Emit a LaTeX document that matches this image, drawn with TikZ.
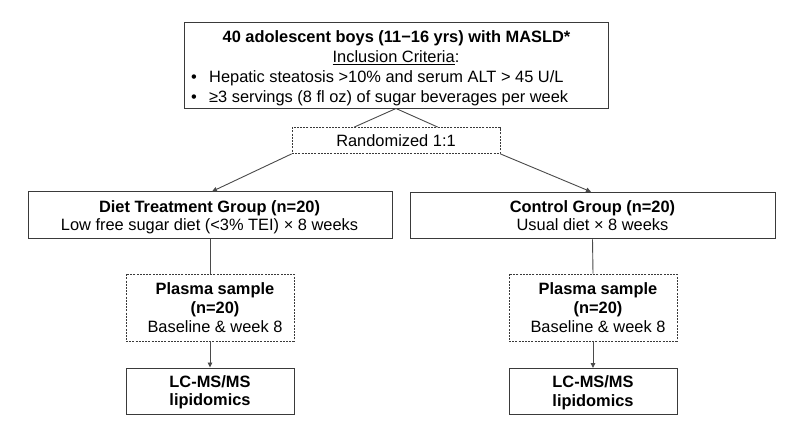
\documentclass[tikz,border=0pt]{standalone}
\usepackage{fontspec}
\setmainfont{Liberation Sans}
\usetikzlibrary{arrows.meta,calc}
\definecolor{boxc}{HTML}{3A3A3A}
\definecolor{linec}{HTML}{4A4A4A}
\begin{document}
\begin{tikzpicture}[x=1pt,y=-1pt,
  sbox/.style={draw=boxc,line width=1pt,inner sep=0pt},
  dbox/.style={draw=boxc,line width=0.8pt,dash pattern=on 2pt off 1.2pt,inner sep=0pt},
  txt/.style={anchor=base,inner sep=0pt,font=\fontsize{16.4}{19}\selectfont},
  btxt/.style={txt,font=\fontsize{16.4}{19}\selectfont\bfseries},
  conn/.style={draw=linec,line width=0.9pt},
  arr/.style={conn,-{Triangle[length=5pt,width=4.5pt]}}
]
\useasboundingbox (0,0) rectangle (798,426);
\fill[white] (0,0) rectangle (798,426);

% top box
\node[sbox,minimum width=424pt,minimum height=86pt] (top) at (396,65) {};
\node[btxt] (t1) at (396.5,42.5) {40 adolescent boys (11−16 yrs) with MASLD*};
\node[txt] (t2) at (396,62.5) {\underline{Inclusion Criteria}:};
\node[txt,anchor=base west] (t3) at (191,82.5) {\makebox[18pt][l]{•}Hepatic steatosis >10\% and serum ALT > 45 U/L};
\node[txt,anchor=base west] (t4) at (191,102.5) {\makebox[18pt][l]{•}≥3 servings (8 fl oz) of sugar beverages per week};

% randomized
\node[dbox,minimum width=208pt,minimum height=26pt] (rand) at (396,140.5) {};
\node[txt] (rt) at (396,146.5) {Randomized 1:1};

% group boxes
\node[sbox,minimum width=364pt,minimum height=46.5pt] (gl) at (210,215.2) {};
\node[btxt] (gl1) at (209.5,212.3) {Diet Treatment Group (n=20)};
\node[txt] (gl2) at (209.5,230.7) {Low free sugar diet (<3\% TEI) × 8 weeks};

\node[sbox,minimum width=365pt,minimum height=46.5pt] (gr) at (592.5,215.5) {};
\node[btxt] (gr1) at (592.5,212.3) {Control Group (n=20)};
\node[txt] (gr2) at (592.5,230.7) {Usual diet × 8 weeks};

% plasma boxes
\node[dbox,minimum width=168pt,minimum height=67pt] (pl) at (210,307.5) {};
\node[btxt] (pl1) at (215,294.3) {Plasma sample};
\node[btxt] (pl2) at (215,313.3) {(n=20)};
\node[txt] (pl3) at (215,332.5) {Baseline \& week 8};

\node[dbox,minimum width=168pt,minimum height=67pt] (pr) at (593,307.5) {};
\node[btxt] (pr1) at (598,294.3) {Plasma sample};
\node[btxt] (pr2) at (598,313.3) {(n=20)};
\node[txt] (pr3) at (598,332.5) {Baseline \& week 8};

% LC-MS boxes
\node[sbox,minimum width=168pt,minimum height=46pt] (ll) at (210,391) {};
\node[btxt] (ll1) at (210,387.3) {LC-MS/MS};
\node[btxt] (ll2) at (210,405.7) {lipidomics};

\node[sbox,minimum width=168pt,minimum height=46pt] (lr) at (593,391.5) {};
\node[btxt] (lr1) at (593,387.5) {LC-MS/MS};
\node[btxt] (lr2) at (593,406) {lipidomics};

% connectors
\draw[conn] (top.south) -- ($(rand.north west)!0.3!(rand.north east)$);
\draw[conn] (top.south) -- ($(rand.north west)!0.7!(rand.north east)$);
\draw[arr] (rand.south west) -- ($(gl.north)+(2,0)$);
\draw[arr] (rand.south east) -- ($(gr.north)+(-1.5,0)$);
\draw[conn] (gl.south) -- (pl.north);
\draw[conn] (gr.south) -- (pr.north);
\draw[arr] (pl.south) -- (ll.north);
\draw[arr] (pr.south) -- (lr.north);
\end{tikzpicture}
\end{document}
